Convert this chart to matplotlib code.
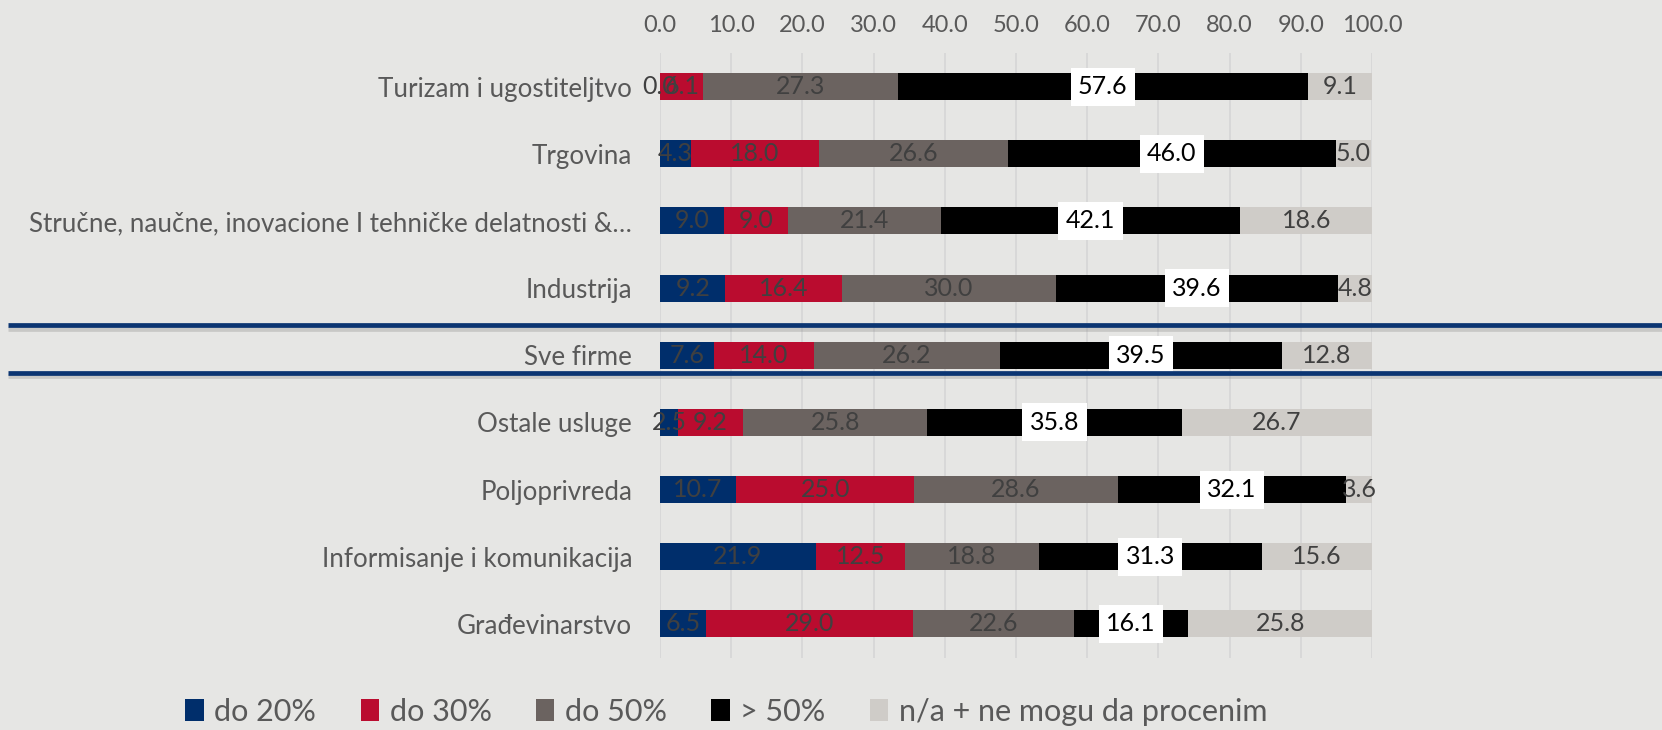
import matplotlib
matplotlib.use("Agg")
import matplotlib.pyplot as plt
import matplotlib.patheffects as pe
import matplotlib.transforms as mtransforms
from matplotlib.patches import Patch
import numpy as np

categories = [
    "Turizam i ugostiteljtvo",
    "Trgovina",
    "Stručne, naučne, inovacione I tehničke delatnosti &…",
    "Industrija",
    "Sve firme",
    "Ostale usluge",
    "Poljoprivreda",
    "Informisanje i komunikacija",
    "Građevinarstvo",
]
do20  = [0.0, 4.3, 9.0, 9.2, 7.6, 2.5, 10.7, 21.9, 6.5]
do30  = [6.1, 18.0, 9.0, 16.4, 14.0, 9.2, 25.0, 12.5, 29.0]
do50  = [27.3, 26.6, 21.4, 30.0, 26.2, 25.8, 28.6, 18.8, 22.6]
gt50  = [57.6, 46.0, 42.1, 39.6, 39.5, 35.8, 32.1, 31.3, 16.1]
na    = [9.1, 5.0, 18.6, 4.8, 12.8, 26.7, 3.6, 15.6, 25.8]

series_names = ["do 20%", "do 30%", "do 50%", "> 50%", "n/a + ne mogu da procenim"]
series = [do20, do30, do50, gt50, na]
colors = ["#002E6B", "#BA0C2F", "#6B6360", "#000000", "#CFCCC8"]
xticks = np.arange(0, 101, 10)

plt.rcParams["font.family"] = ["Lato", "DejaVu Sans"]
BG = "#E6E6E4"
TXT = "#595959"

fig = plt.figure(figsize=(16.62, 7.3), dpi=100, facecolor=BG)
ax = fig.add_axes([0.3971, 0.0993, 0.4284, 0.8281], facecolor=BG)

y = np.arange(len(categories))
left = np.zeros(len(categories))
for vals, col in zip(series, colors):
    ax.barh(y, vals, left=left, height=0.4, color=col, zorder=3)
    for yi, (l, v) in enumerate(zip(left, vals)):
        cx = l + v / 2
        if col == "#000000":
            ax.text(cx, yi, f"{v:.1f}", ha="center", va="center", fontsize=18,
                    color="black", zorder=5,
                    bbox=dict(boxstyle="square,pad=0.3", fc="white", ec="none"))
        else:
            ax.text(cx, yi, f"{v:.1f}", ha="center", va="center", fontsize=18,
                    color="#404040", zorder=5, clip_on=False)
    left = left + np.array(vals)

ax.set_ylim(len(categories) - 0.5, -0.5)
ax.set_xlim(0, 100)
ax.set_yticks(y)
ax.set_yticklabels(categories, fontsize=18.7, color=TXT)
ax.set_xticks(xticks)
ax.set_xticklabels([f"{t:.1f}" for t in xticks], fontsize=17, color=TXT)
ax.xaxis.tick_top()
ax.tick_params(axis="x", length=0, pad=12)
ax.tick_params(axis="y", length=0, pad=20)
for s in ax.spines.values():
    s.set_visible(False)
ax.grid(axis="x", color="#D6D6D6", linewidth=1.2, zorder=0)
ax.set_axisbelow(True)

# separator lines around "Sve firme"
trans = mtransforms.blended_transform_factory(fig.transFigure, ax.transData)
for yl in (3.55, 4.26):
    ax.plot([0.005, 1.0], [yl, yl], transform=trans, color="#0B3572",
            linewidth=3.4, clip_on=False, zorder=6, solid_capstyle="butt",
            path_effects=[pe.SimpleLineShadow(offset=(0, -2.5), shadow_color="#909090", alpha=0.35),
                          pe.Normal()])

handles = [Patch(facecolor=c, edgecolor="none") for c in colors]
fig.legend(handles, series_names, loc="center", bbox_to_anchor=(0.437, 0.025),
           ncol=5, frameon=False, fontsize=22, handlelength=0.6, handleheight=0.75,
           handletextpad=0.35, columnspacing=1.45, labelcolor=TXT)

fig.savefig("out.png", dpi=100, facecolor=BG)
